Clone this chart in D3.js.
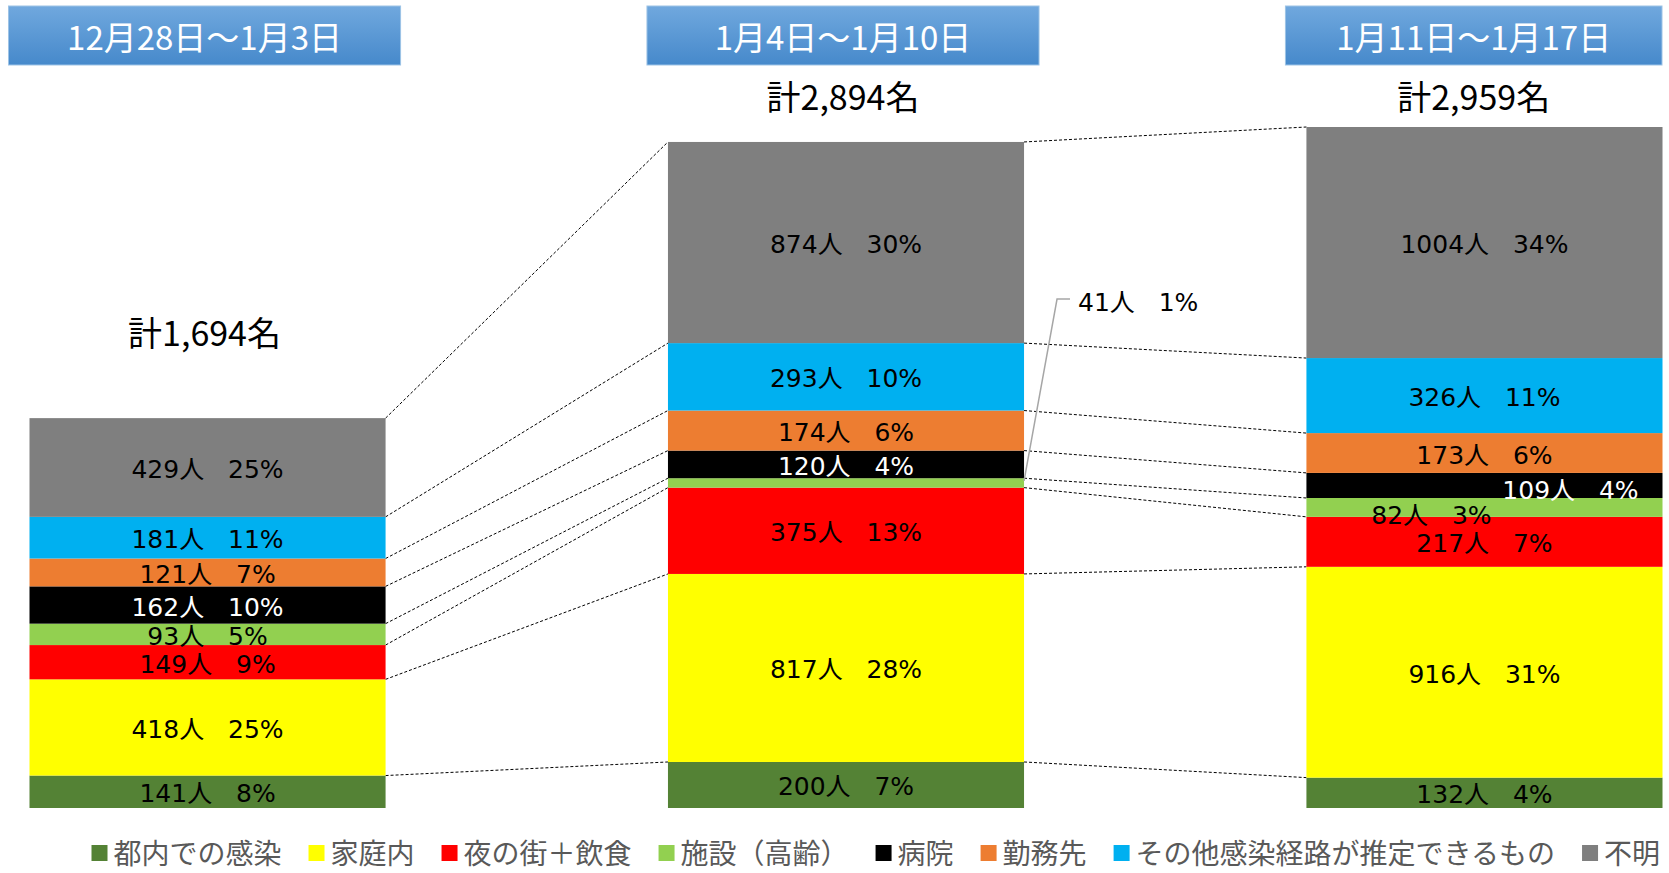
<!DOCTYPE html>
<html>
<head>
<meta charset="utf-8">
<script src="https://cdn.jsdelivr.net/npm/d3@7"></script>
<style>
    body { margin: 0; background: #ffffff; }
    text { white-space: pre; }
</style>
</head>
<body>
<div id="chart"></div>
<script>
'use strict';

// column headers and totals
const periods = ["12月28日～1月3日", "1月4日～1月10日", "1月11日～1月17日"];
const totalLabels = ["計1,694名", "計2,894名", "計2,959名"];

// infection routes, stacked bottom to top
const categories = ["都内での感染", "家庭内", "夜の街＋飲食", "施設（高齢）", "病院", "勤務先", "その他感染経路が推定できるもの", "不明"];
const colors = ["#548235", "#ffff00", "#ff0000", "#92d050", "#000000", "#ed7d31", "#00b0f0", "#7f7f7f"];

// people per route for each week
const counts1 = [141, 418, 149, 93, 162, 121, 181, 429];
const counts2 = [200, 817, 375, 41, 120, 174, 293, 874];
const counts3 = [132, 916, 217, 82, 109, 173, 326, 1004];

// percentages as printed on the chart
const shares1 = [8, 25, 9, 5, 10, 7, 11, 25];
const shares2 = [7, 28, 13, 1, 4, 6, 10, 30];
const shares3 = [4, 31, 7, 3, 4, 6, 11, 34];

const allCounts = [counts1, counts2, counts3];
const allShares = [shares1, shares2, shares3];

const width = 1669, height = 873;

// a few labels are moved off centre so they don't collide
const labelNudge = {
    "2|4": [86, 3],
    "2|3": [-53, 6]
};

// build rows for d3.stack
let rows = periods.map((p, i) => {
    let row = { period: p, total: d3.sum(allCounts[i]) };
    categories.forEach((c, k) => row[c] = allCounts[i][k]);
    return row;
});
let series = d3.stack().keys(categories)(rows);

let svg = d3.select("#chart")
    .append("svg")
    .attr("width", width)
    .attr("height", height)
    .style("font-family", "'Noto Sans CJK JP', sans-serif");

// scales
let x = d3.scaleBand()
    .domain(periods)
    .range([29.5, 1662.5])
    .paddingInner(0.4423)
    .paddingOuter(0);
let bw = x.bandwidth();
let y = d3.scaleLinear()
    .domain([0, d3.max(rows, r => r.total)])
    .range([808, 127]);

// header gradient
let grad = svg.append("defs").append("linearGradient")
    .attr("id", "hdrGrad")
    .attr("x1", 0).attr("y1", 0).attr("x2", 0).attr("y2", 1);
grad.append("stop").attr("offset", "0%").attr("stop-color", "#70a8de");
grad.append("stop").attr("offset", "100%").attr("stop-color", "#4689cb");

// headers
let hdr = svg.selectAll("g.header")
    .data(periods)
    .enter()
    .append("g")
    .classed("header", true);
let hdrLeft = p => Math.max(x(p) - 21, 4);
let hdrRight = p => Math.min(x(p) + bw + 15, width - 7);
hdr.append("rect")
    .attr("x", p => hdrLeft(p))
    .attr("y", 6)
    .attr("width", p => hdrRight(p) - hdrLeft(p))
    .attr("height", 59)
    .attr("fill", "url(#hdrGrad)")
    .attr("stroke", "#9dc3e6")
    .attr("stroke-width", 1);
hdr.append("text")
    .attr("x", p => (hdrLeft(p) + hdrRight(p)) / 2)
    .attr("y", 36)
    .attr("text-anchor", "middle")
    .attr("dominant-baseline", "central")
    .attr("fill", "#ffffff")
    .style("font-size", "33px")
    .text(p => p);

// totals above each bar
svg.selectAll("text.total")
    .data(rows)
    .enter()
    .append("text")
    .classed("total", true)
    .attr("x", r => (hdrLeft(r.period) + hdrRight(r.period)) / 2)
    .attr("y", r => Math.max(95, y(r.total) - 87))
    .attr("text-anchor", "middle")
    .attr("dominant-baseline", "central")
    .attr("fill", "#000000")
    .style("font-size", "34px")
    .text((r, i) => totalLabels[i]);

// dashed connectors between neighbouring bars, one per segment boundary
let links = [];
for (let i = 0; i < periods.length - 1; i++) {
    series.forEach(s => {
        links.push({
            x1: x(periods[i]) + bw, y1: y(s[i][1]),
            x2: x(periods[i + 1]), y2: y(s[i + 1][1])
        });
    });
}
svg.selectAll("line.link")
    .data(links)
    .enter()
    .append("line")
    .classed("link", true)
    .attr("x1", d => d.x1).attr("y1", d => d.y1)
    .attr("x2", d => d.x2).attr("y2", d => d.y2)
    .attr("stroke", "#000000")
    .attr("stroke-width", 1)
    .attr("stroke-dasharray", "3,2");

// stacked segments
let layer = svg.selectAll("g.layer")
    .data(series)
    .enter()
    .append("g")
    .classed("layer", true)
    .attr("fill", (s, k) => colors[k]);
layer.selectAll("rect")
    .data(s => s)
    .enter()
    .append("rect")
    .attr("x", d => x(d.data.period))
    .attr("y", d => y(d[1]))
    .attr("width", bw)
    .attr("height", d => y(d[0]) - y(d[1]));

// segment labels
let labels = [];
series.forEach((s, k) => {
    s.forEach((d, i) => {
        let top = y(d[1]), bot = y(d[0]);
        let nudge = labelNudge[i + "|" + k] || [0, 0];
        labels.push({
            text: allCounts[i][k] + "人   " + allShares[i][k] + "%",
            cx: x(periods[i]) + bw / 2 + nudge[0],
            cy: (top + bot) / 2 + 2 + nudge[1],
            right: x(periods[i]) + bw,
            mid: (top + bot) / 2,
            small: bot - top < 12,
            fill: colors[k] === "#000000" ? "#ffffff" : "#000000"
        });
    });
});

svg.selectAll("text.seg")
    .data(labels.filter(l => !l.small))
    .enter()
    .append("text")
    .classed("seg", true)
    .attr("x", l => l.cx)
    .attr("y", l => l.cy)
    .attr("text-anchor", "middle")
    .attr("dominant-baseline", "central")
    .attr("fill", l => l.fill)
    .style("font-family", "'DejaVu Sans', 'Noto Sans CJK JP', sans-serif")
    .style("font-size", "25px")
    .text(l => l.text);

// thin segments get a callout beside the bar
let callouts = labels.filter(l => l.small);
svg.selectAll("polyline.callout")
    .data(callouts)
    .enter()
    .append("polyline")
    .classed("callout", true)
    .attr("points", l => [[l.right, l.mid - 2], [l.right + 33, 299], [l.right + 46, 299]].join(" "))
    .attr("fill", "none")
    .attr("stroke", "#a6a6a6")
    .attr("stroke-width", 1.5);
svg.selectAll("text.callout")
    .data(callouts)
    .enter()
    .append("text")
    .classed("callout", true)
    .attr("x", l => l.right + 54)
    .attr("y", 302)
    .attr("dominant-baseline", "central")
    .attr("fill", "#000000")
    .style("font-family", "'DejaVu Sans', 'Noto Sans CJK JP', sans-serif")
    .style("font-size", "25px")
    .text(l => l.text);

// legend along the bottom (last entry runs to the page edge, as in the original)
let legend = svg.append("g").classed("legend", true);
let lx = 91.5;
categories.forEach((c, k) => {
    legend.append("rect")
        .attr("x", lx)
        .attr("y", 845)
        .attr("width", 16)
        .attr("height", 16)
        .attr("fill", colors[k]);
    let t = legend.append("text")
        .attr("x", lx + 22)
        .attr("y", 852)
        .attr("dominant-baseline", "central")
        .attr("fill", "#595959")
        .style("font-size", "28px")
        .text(c);
    lx += 22 + t.node().getComputedTextLength() + 27;
});
</script>
</body>
</html>
